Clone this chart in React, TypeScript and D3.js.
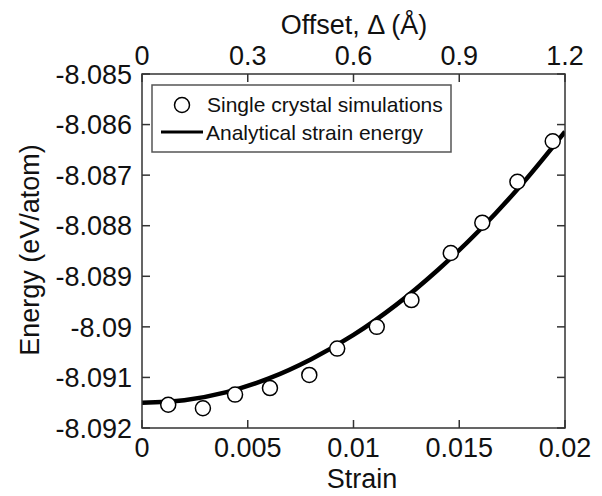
import React from "react";
import * as d3 from "d3";

const strainSim = [0.00124, 0.00288, 0.0044, 0.00605, 0.00791, 0.00923, 0.0111, 0.01274, 0.0146, 0.01609, 0.01775, 0.01942];
const energySim = [-8.09154, -8.09161, -8.09134, -8.09121, -8.09095, -8.09043, -8.09, -8.08947, -8.08854, -8.08794, -8.08713, -8.08633];

const strainFit = [0, 0.002, 0.004, 0.006, 0.008, 0.01, 0.012, 0.014, 0.016, 0.018, 0.02];
const energyFit = [-8.0915, -8.09145, -8.09129, -8.09102, -8.09064, -8.09016, -8.08957, -8.08887, -8.08807, -8.08716, -8.08614];

const xTicks = [0, 0.005, 0.01, 0.015, 0.02];
const xTickLabels = ["0", "0.005", "0.01", "0.015", "0.02"];
const topTicks = [0, 0.3, 0.6, 0.9, 1.2];
const topTickLabels = ["0", "0.3", "0.6", "0.9", "1.2"];
const yTicks = [-8.092, -8.091, -8.09, -8.089, -8.088, -8.087, -8.086, -8.085];
const yTickLabels = ["-8.092", "-8.091", "-8.09", "-8.089", "-8.088", "-8.087", "-8.086", "-8.085"];

const W = 602, H = 496;
const L = 142, R = 565, T = 74, B = 428;
const font = "'Liberation Sans', Arial, Helvetica, sans-serif";

export default function App() {
  const x = d3.scaleLinear().domain([0, 0.02]).range([L, R]);
  const xTop = d3.scaleLinear().domain([0, 1.2]).range([L, R]);
  const y = d3.scaleLinear().domain([-8.092, -8.085]).range([B, T]);
  const line = d3.line<number>()
    .x((_, i) => x(strainFit[i]))
    .y((d) => y(d))
    .curve(d3.curveCatmullRom);
  const tl = 8;
  const axisColor = "#333";
  return (
    <svg width={W} height={H} style={{ position: "absolute", left: 0, top: 0, background: "#fff" }} fontFamily={font}>
      <defs>
        <clipPath id="plot"><rect x={L} y={T} width={R - L} height={B - T} /></clipPath>
      </defs>
      <rect x={0} y={0} width={W} height={H} fill="#fff" />
      {/* curve */}
      <path d={line(energyFit) || ""} fill="none" stroke="#000" strokeWidth={4.5} clipPath="url(#plot)" />
      {/* points */}
      {strainSim.map((s, i) => (
        <circle key={i} cx={x(s)} cy={y(energySim[i])} r={7.5} fill="#fff" stroke="#000" strokeWidth={1.5} />
      ))}
      {/* frame */}
      <rect x={L} y={T} width={R - L} height={B - T} fill="none" stroke={axisColor} strokeWidth={1.5} />
      {/* x ticks bottom & top */}
      {xTicks.map((t, i) => (
        <g key={"xb" + i}>
          <line x1={x(t)} x2={x(t)} y1={B} y2={B - tl} stroke={axisColor} strokeWidth={1.5} />
          <text x={x(t)} y={457} textAnchor="middle" fontSize={27} fill="#111">{xTickLabels[i]}</text>
        </g>
      ))}
      {topTicks.map((t, i) => (
        <g key={"xt" + i}>
          <line x1={xTop(t)} x2={xTop(t)} y1={T} y2={T + tl} stroke={axisColor} strokeWidth={1.5} />
          <text x={xTop(t)} y={65} textAnchor="middle" fontSize={27} fill="#111">{topTickLabels[i]}</text>
        </g>
      ))}
      {yTicks.map((t, i) => (
        <g key={"y" + i}>
          <line x1={L} x2={L + tl} y1={y(t)} y2={y(t)} stroke={axisColor} strokeWidth={1.5} />
          <line x1={R} x2={R - tl} y1={y(t)} y2={y(t)} stroke={axisColor} strokeWidth={1.5} />
          <text x={132} y={y(t)} dy="0.36em" textAnchor="end" fontSize={27} fill="#111">{yTickLabels[i]}</text>
        </g>
      ))}
      {/* axis titles */}
      <text x={362} y={488} textAnchor="middle" fontSize={27} fill="#111">Strain</text>
      <text x={354} y={34} textAnchor="middle" fontSize={27} fill="#111">Offset, Δ (Å)</text>
      <text transform={`translate(39,250) rotate(-90)`} textAnchor="middle" fontSize={27} fill="#111">Energy (eV/atom)</text>
      {/* legend */}
      <rect x={152} y={85} width={299} height={67} fill="#fff" stroke="#555" strokeWidth={1.5} />
      <circle cx={182} cy={105} r={7.5} fill="#fff" stroke="#000" strokeWidth={1.5} />
      <text x={207} y={112} fontSize={21} fill="#111">Single crystal simulations</text>
      <line x1={161} x2={203} y1={132} y2={132} stroke="#000" strokeWidth={3} />
      <text x={206} y={140} fontSize={21} fill="#111">Analytical strain energy</text>
    </svg>
  );
}
